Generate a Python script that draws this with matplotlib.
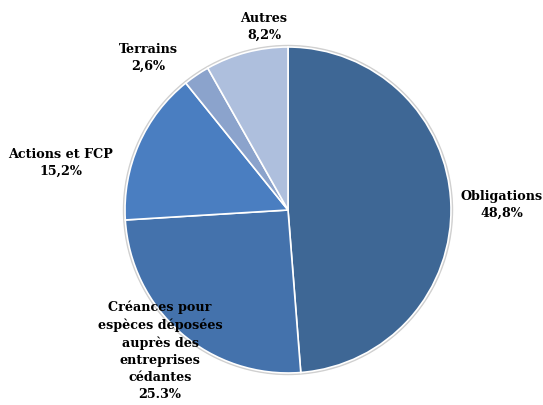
import matplotlib
matplotlib.use("Agg")
import matplotlib.pyplot as plt

categories = ["Obligations", "Créances pour\nespèces déposées\nauprès des\nentreprises\ncédantes", "Actions et FCP", "Terrains", "Autres"]
values = [48.8, 25.3, 15.2, 2.6, 8.2]
value_labels = ["48,8%", "25.3%", "15,2%", "2,6%", "8,2%"]
colors = ["#3E6795", "#4472AC", "#4A7EC1", "#8BA3CC", "#AEBFDD"]

W, H = 543, 405
fig = plt.figure(figsize=(W / 100, H / 100), dpi=100)
ax = fig.add_axes([0, 0, 1, 1])
ax.set_xlim(0, W)
ax.set_ylim(0, H)
ax.set_aspect("equal")
ax.axis("off")

cx, cy, r = 288, H - 210, 163
# faint shadow ring
ax.add_patch(plt.Circle((cx, cy), r + 1.5, color="#d0d0d0", zorder=0))
ax.pie(values, colors=colors, startangle=90, counterclock=False,
       center=(cx, cy), radius=r, normalize=True,
       wedgeprops=dict(edgecolor="white", linewidth=1.2))
ax.set_xlim(0, W)
ax.set_ylim(0, H)

label_pos = [(502, 205), (160, 351), (61, 163), (148, 58), (264, 27)]
font = dict(family="DejaVu Serif", weight="bold", fontsize=9.2, color="black",
            ha="center", va="center", linespacing=1.42)
for name, vl, (x, y) in zip(categories, value_labels, label_pos):
    ax.text(x, H - y, f"{name}\n{vl}", **font)

fig.savefig("out.png", dpi=100)
